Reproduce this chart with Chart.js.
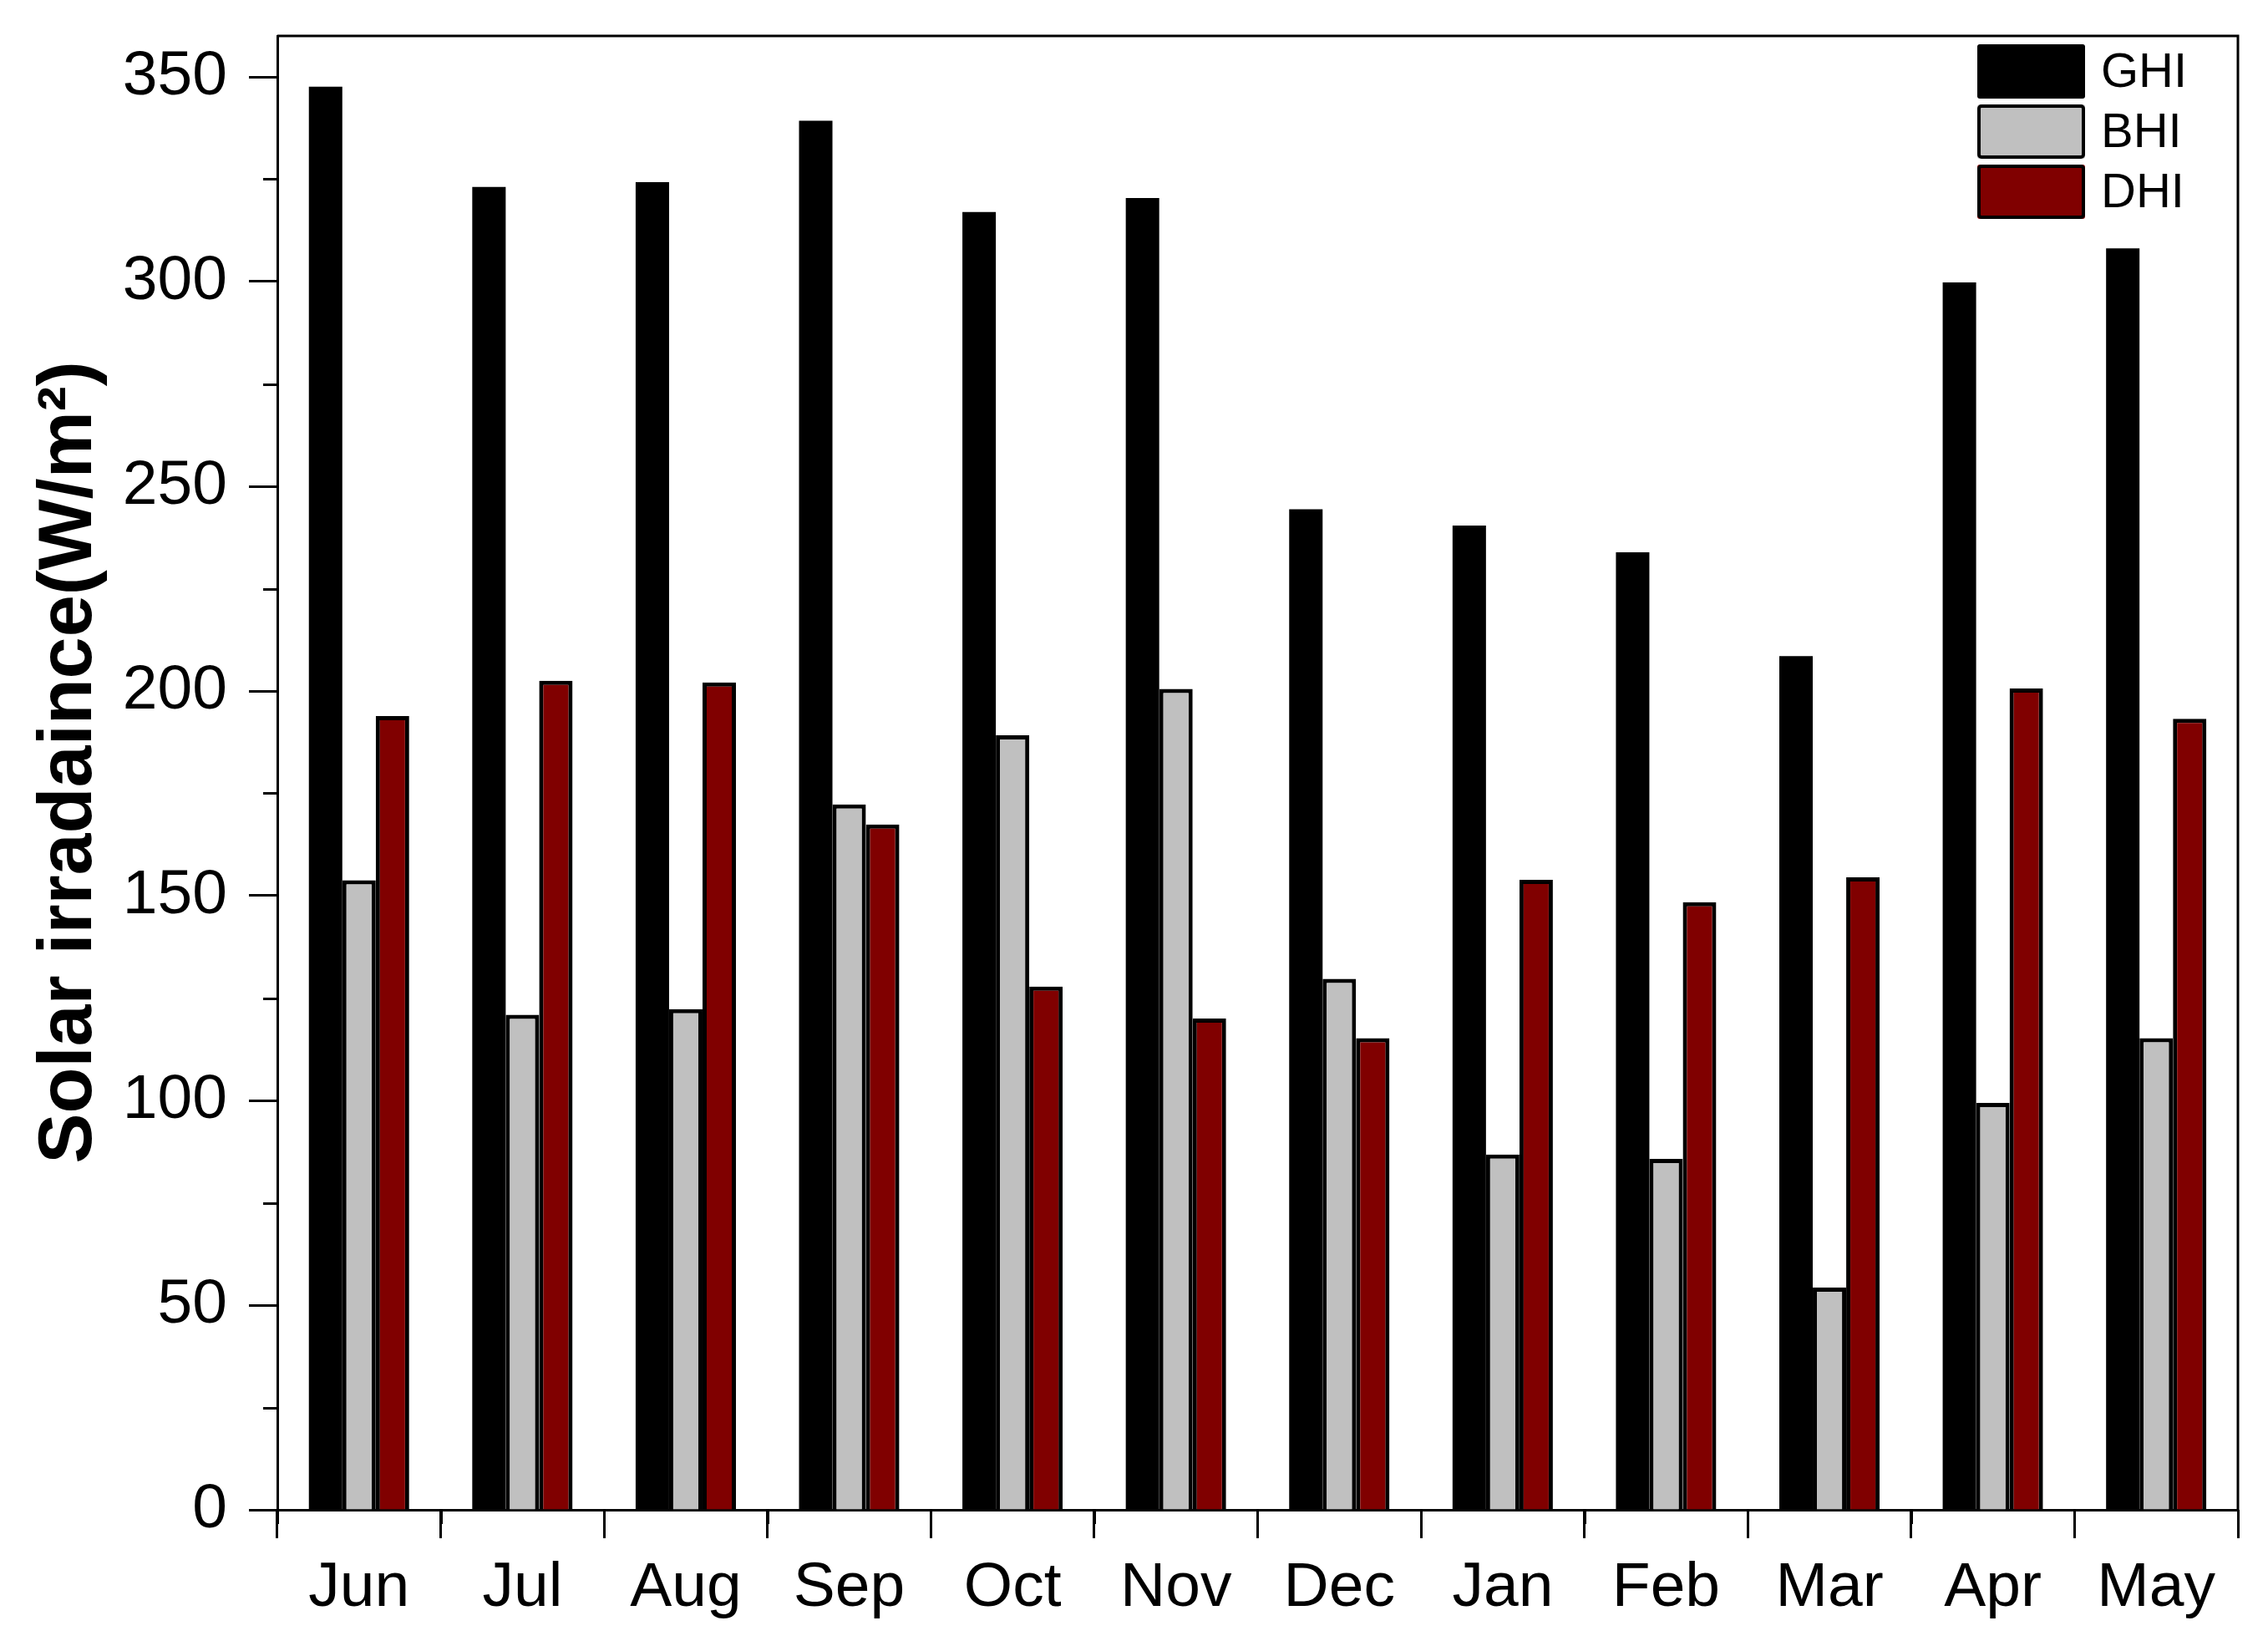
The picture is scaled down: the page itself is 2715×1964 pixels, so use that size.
<!DOCTYPE html>
<html>
<head>
<meta charset="utf-8">
<script src="https://cdn.jsdelivr.net/npm/chart.js@4.4.1/dist/chart.umd.min.js"></script>
<style>
  html, body { margin: 0; padding: 0; background: #fff; }
  #wrap { width: 2715px; height: 1964px; }
</style>
</head>
<body>
<div id="wrap"><canvas id="solarChart" width="2715" height="1964"></canvas></div>
<script>
const months = ["Jun", "Jul", "Aug", "Sep", "Oct", "Nov", "Dec", "Jan", "Feb", "Mar", "Apr", "May"];
const ghiValues = [347.6, 323.1, 324.3, 339.3, 317.0, 320.4, 244.4, 240.4, 233.9, 208.5, 299.8, 308.1];
const bhiValues = [153.8, 120.9, 122.3, 172.3, 189.2, 200.5, 129.7, 86.8, 85.7, 54.3, 99.4, 115.2];
const dhiValues = [193.9, 202.5, 202.1, 167.4, 127.8, 120.0, 115.2, 153.9, 148.4, 154.5, 200.6, 193.2];
const seriesNames = ["GHI", "BHI", "DHI"];
const seriesColors = ["#000000", "#c0c0c0", "#800000"];
const seriesBorders = [0, 5, 5];

const FONT = "'Liberation Sans', Arial, sans-serif";

// short ticks between the labelled ones, a box round the plot and the legend
const framePlugin = {
  id: "frame",
  afterDraw(chart) {
    const ctx = chart.ctx;
    const area = chart.chartArea;
    const x = chart.scales.x;
    const y = chart.scales.y;
    ctx.save();
    ctx.strokeStyle = "#000";
    ctx.lineWidth = 3;

    ctx.beginPath();
    ctx.moveTo(area.left, area.top);
    ctx.lineTo(area.right, area.top);
    ctx.lineTo(area.right, area.bottom);
    ctx.stroke();

    ctx.beginPath();
    for (const t of y.ticks) {
      if (t.value % 50 === 0) continue;
      const py = Math.round(y.getPixelForValue(t.value)) + 0.5;
      ctx.moveTo(area.left - 17, py);
      ctx.lineTo(area.left, py);
    }
    const half = (x.getPixelForValue(1) - x.getPixelForValue(0)) / 2;
    for (let i = 0; i <= months.length; i++) {
      const px = Math.round(x.getPixelForValue(i) - half) + 0.5;
      ctx.moveTo(px, area.bottom);
      ctx.lineTo(px, area.bottom + 17);
    }
    ctx.stroke();

    // legend
    const boxX = 2367, boxW = 129, boxH = 65, top0 = 53, step = 72;
    ctx.font = "58px " + FONT;
    ctx.textBaseline = "middle";
    ctx.textAlign = "left";
    chart.data.datasets.forEach((ds, i) => {
      const by = top0 + i * step;
      ctx.fillStyle = ds.backgroundColor;
      ctx.beginPath();
      ctx.roundRect(boxX, by, boxW, boxH, 3);
      ctx.fill();
      ctx.lineWidth = 4;
      ctx.strokeStyle = "#000";
      ctx.beginPath();
      ctx.roundRect(boxX + 2, by + 2, boxW - 4, boxH - 4, 3);
      ctx.stroke();
      ctx.fillStyle = "#000";
      ctx.fillText(ds.label, 2515, by + boxH / 2 + 2);
    });
    ctx.restore();
  },
};

const ctx = document.getElementById("solarChart").getContext("2d");
new Chart(ctx, {
  type: "bar",
  data: {
    labels: months,
    datasets: [ghiValues, bhiValues, dhiValues].map((vals, i) => ({
      label: seriesNames[i],
      data: vals,
      backgroundColor: seriesColors[i],
      borderColor: "#000",
      borderWidth: seriesBorders[i],
      categoryPercentage: 0.614,
      barPercentage: 1,
    })),
  },
  options: {
    responsive: false,
    animation: false,
    layout: { padding: { left: 0, top: 43, right: 36, bottom: 0 } },
    plugins: {
      legend: { display: false },
      tooltip: { enabled: false },
    },
    scales: {
      x: {
        grid: {
          drawOnChartArea: false,
          tickLength: 34,
          tickWidth: 3,
          color: "#000",
        },
        border: { color: "#000", width: 3 },
        ticks: {
          color: "#000",
          padding: 15,
          maxRotation: 0,
          font: { family: FONT, size: 75 },
        },
        afterFit(scale) {
          scale.height = 157;
          scale.paddingLeft = 0;
          scale.paddingRight = 0;
        },
      },
      y: {
        min: 0,
        max: 360,
        grid: {
          drawOnChartArea: false,
          tickLength: 34,
          tickWidth: 3,
          tickColor: (c) => (c.tick && c.tick.value % 50 === 0 ? "#000" : "rgba(0,0,0,0)"),
        },
        border: { color: "#000", width: 3 },
        ticks: {
          stepSize: 25,
          includeBounds: false,
          color: "#000",
          padding: 26,
          font: { family: FONT, size: 75 },
          callback: (v) => (v % 50 === 0 ? v : ""),
        },
        title: {
          display: true,
          text: " Solar irradaince(W/m²)",
          color: "#000",
          padding: { top: 30, bottom: 0 },
          font: { family: FONT, size: 90, weight: "bold" },
        },
        afterFit(scale) {
          scale.width = 332;
          scale.paddingTop = 0;
          scale.paddingBottom = 0;
        },
      },
    },
  },
  plugins: [framePlugin],
});
</script>
</body>
</html>
